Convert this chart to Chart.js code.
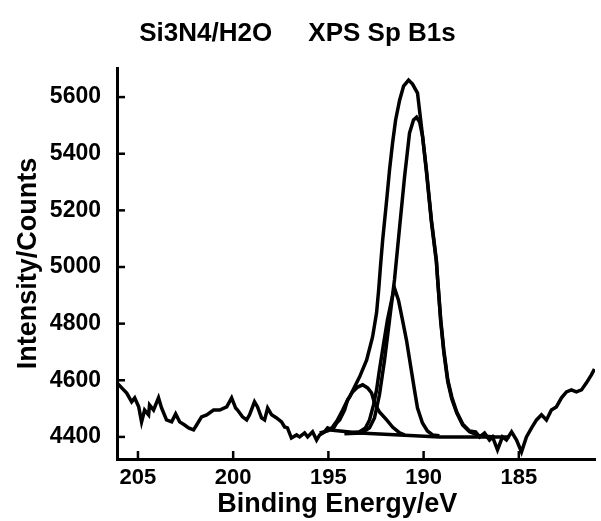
<!DOCTYPE html>
<html>
<head>
<meta charset="utf-8">
<script src="https://cdn.jsdelivr.net/npm/chart.js@4.4.1/dist/chart.umd.min.js"></script>
<style>
  html, body { margin: 0; padding: 0; background: #fff; }
  #wrap { width: 601px; height: 521px; }
</style>
</head>
<body>
<div id="wrap"><canvas id="xps" width="601" height="521"></canvas></div>
<script>
// tick values on both axes
const xTicks = [205, 200, 195, 190, 185];
const yTicks = [4400, 4600, 4800, 5000, 5200, 5400, 5600];

const rawSpectrum = [
  [206.1, 4591], [205.85, 4573], [205.59, 4555], [205.33, 4524], [205.17, 4538],
  [204.96, 4506], [204.81, 4453], [204.65, 4495], [204.44, 4478], [204.39, 4513],
  [204.18, 4495], [203.92, 4538], [203.76, 4502], [203.5, 4460], [203.23, 4453],
  [203.02, 4481], [202.81, 4453], [202.55, 4442], [202.34, 4432], [202.08, 4425],
  [201.92, 4442], [201.66, 4471], [201.39, 4478], [201.03, 4495], [200.71, 4495],
  [200.34, 4506], [200.08, 4538], [199.87, 4502], [199.77, 4495], [199.51, 4471],
  [199.29, 4460], [199.14, 4478], [198.88, 4524], [198.72, 4506], [198.51, 4467],
  [198.35, 4460], [198.19, 4502], [197.98, 4478], [197.72, 4467], [197.46, 4453],
  [197.3, 4435], [197.15, 4432], [196.94, 4396], [196.67, 4407], [196.51, 4400],
  [196.25, 4414], [196.09, 4400], [195.83, 4418], [195.62, 4389], [195.46, 4407],
  [195.2, 4418], [195.04, 4432], [194.78, 4425], [194.57, 4449], [194.41, 4460],
  [194.15, 4495], [193.99, 4531], [193.89, 4541], [193.36, 4612], [192.99, 4672],
  [192.68, 4753], [192.47, 4838], [192.36, 4919], [192.26, 5007], [192.15, 5095],
  [191.94, 5236], [191.79, 5342], [191.63, 5438], [191.47, 5519], [191.26, 5589],
  [191.05, 5639], [190.79, 5660], [190.58, 5646], [190.32, 5614], [190.11, 5494],
  [189.85, 5342], [189.59, 5166], [189.33, 5025], [189.26, 4954], [189.1, 4813],
  [188.94, 4707], [188.73, 4601], [188.52, 4541], [188.26, 4488], [187.95, 4446],
  [187.59, 4421], [187.27, 4418], [187.06, 4400], [186.8, 4414], [186.54, 4389],
  [186.38, 4400], [186.12, 4354], [185.86, 4400], [185.65, 4389], [185.38, 4418],
  [185.12, 4389], [184.86, 4347], [184.6, 4400], [184.33, 4432], [184.07, 4460],
  [183.81, 4478], [183.55, 4460], [183.29, 4495], [183.03, 4506], [182.76, 4538],
  [182.5, 4559], [182.24, 4566], [181.98, 4559], [181.71, 4566], [181.45, 4591],
  [181.19, 4619], [181.03, 4640]
];

// fitted components
const peakMain = [
  [194.16, 4411], [193.26, 4414], [192.84, 4432], [192.58, 4467], [192.32, 4548],
  [192.05, 4672], [191.79, 4813], [191.53, 4954], [191.26, 5141], [191.0, 5318],
  [190.74, 5473], [190.53, 5519], [190.37, 5529], [190.21, 5512], [190.05, 5459],
  [189.85, 5335], [189.59, 5159], [189.33, 5018], [189.1, 4806], [188.94, 4700],
  [188.73, 4594], [188.52, 4534], [188.26, 4485], [187.95, 4442], [187.59, 4418],
  [187.06, 4404], [186.27, 4400]
];
const peakMid = [
  [193.89, 4414], [193.36, 4418], [193.05, 4432], [192.84, 4460], [192.63, 4513],
  [192.47, 4566], [192.32, 4636], [192.11, 4725], [191.9, 4813], [191.68, 4883],
  [191.53, 4926], [191.32, 4883], [191.11, 4813], [190.9, 4742], [190.69, 4654],
  [190.48, 4566], [190.32, 4502], [190.06, 4449], [189.8, 4421], [189.53, 4407],
  [189.17, 4404]
];
const peakSmall = [
  [195.46, 4414], [195.04, 4421], [194.78, 4435], [194.52, 4460], [194.25, 4495],
  [194.04, 4524], [193.73, 4559], [193.46, 4576], [193.2, 4584], [192.94, 4573],
  [192.73, 4555], [192.58, 4520], [192.32, 4488], [191.94, 4460], [191.63, 4435],
  [191.26, 4414], [191.0, 4407]
];
const background = [
  [195.04, 4425], [193.36, 4414], [191.26, 4407], [189.17, 4400], [185.49, 4400]
];

const family = '"Liberation Sans", Arial, Helvetica, sans-serif';

function toPoints(list) {
  return list.map(p => ({ x: p[0], y: p[1] }));
}

function lineSet(list) {
  return {
    data: toPoints(list),
    borderColor: '#000',
    borderWidth: 3.5,
    pointRadius: 0,
    fill: false,
    tension: 0
  };
}

// ticks in this plot point inward, Chart.js only draws them outward
const innerTicks = {
  id: 'innerTicks',
  afterDatasetsDraw(chart) {
    const { ctx, chartArea, scales } = chart;
    ctx.save();
    ctx.strokeStyle = '#000';
    ctx.lineWidth = 2.5;
    xTicks.forEach(v => {
      const px = scales.x.getPixelForValue(v);
      ctx.beginPath();
      ctx.moveTo(px, chartArea.bottom);
      ctx.lineTo(px, chartArea.bottom - 8);
      ctx.stroke();
    });
    yTicks.forEach(v => {
      const py = scales.y.getPixelForValue(v);
      ctx.beginPath();
      ctx.moveTo(chartArea.left, py);
      ctx.lineTo(chartArea.left + 8, py);
      ctx.stroke();
    });
    ctx.restore();
  }
};

new Chart(document.getElementById('xps'), {
  type: 'line',
  data: {
    datasets: [
      lineSet(rawSpectrum),
      lineSet(peakMain),
      lineSet(peakMid),
      lineSet(peakSmall),
      lineSet(background)
    ]
  },
  plugins: [innerTicks],
  options: {
    responsive: false,
    animation: false,
    layout: { padding: { left: 0, right: 6, top: 0, bottom: 0 } },
    plugins: {
      legend: { display: false },
      tooltip: { enabled: false },
      title: {
        display: true,
        text: 'Si3N4/H2O\u00a0\u00a0\u00a0\u00a0\u00a0XPS Sp B1s',
        color: '#000',
        font: { family: family, size: 26, weight: 'bold' },
        padding: { top: 18, bottom: 19 }
      }
    },
    scales: {
      x: {
        type: 'linear',
        reverse: true,
        min: 181,
        max: 206.1,
        afterBuildTicks: s => { s.ticks = xTicks.map(v => ({ value: v })); },
        afterFit: s => { s.height = 62; },
        grid: { display: false, drawTicks: false },
        border: { color: '#000', width: 3 },
        ticks: {
          color: '#000',
          padding: 6,
          maxRotation: 0,
          font: { family: family, size: 22, weight: 'bold' },
          callback: v => String(v)
        },
        title: {
          display: true,
          text: 'Binding Energy/eV\u00a0\u00a0\u00a0\u00a0\u00a0',
          color: '#000',
          font: { family: family, size: 27, weight: 'bold' },
          padding: { top: 0, bottom: 0 }
        }
      },
      y: {
        type: 'linear',
        min: 4322,
        max: 5702,
        afterBuildTicks: s => { s.ticks = yTicks.map(v => ({ value: v })); },
        afterFit: s => { s.width = 117; },
        grid: { display: false, drawTicks: false },
        border: { color: '#000', width: 3 },
        ticks: {
          color: '#000',
          padding: 16,
          font: { family: family, size: 23, weight: 'bold' },
          callback: v => String(v)
        },
        title: {
          display: true,
          text: 'Intensity/Counts',
          color: '#000',
          font: { family: family, size: 27, weight: 'bold' },
          padding: { top: 12, bottom: 0 }
        }
      }
    }
  }
});
</script>
</body>
</html>
